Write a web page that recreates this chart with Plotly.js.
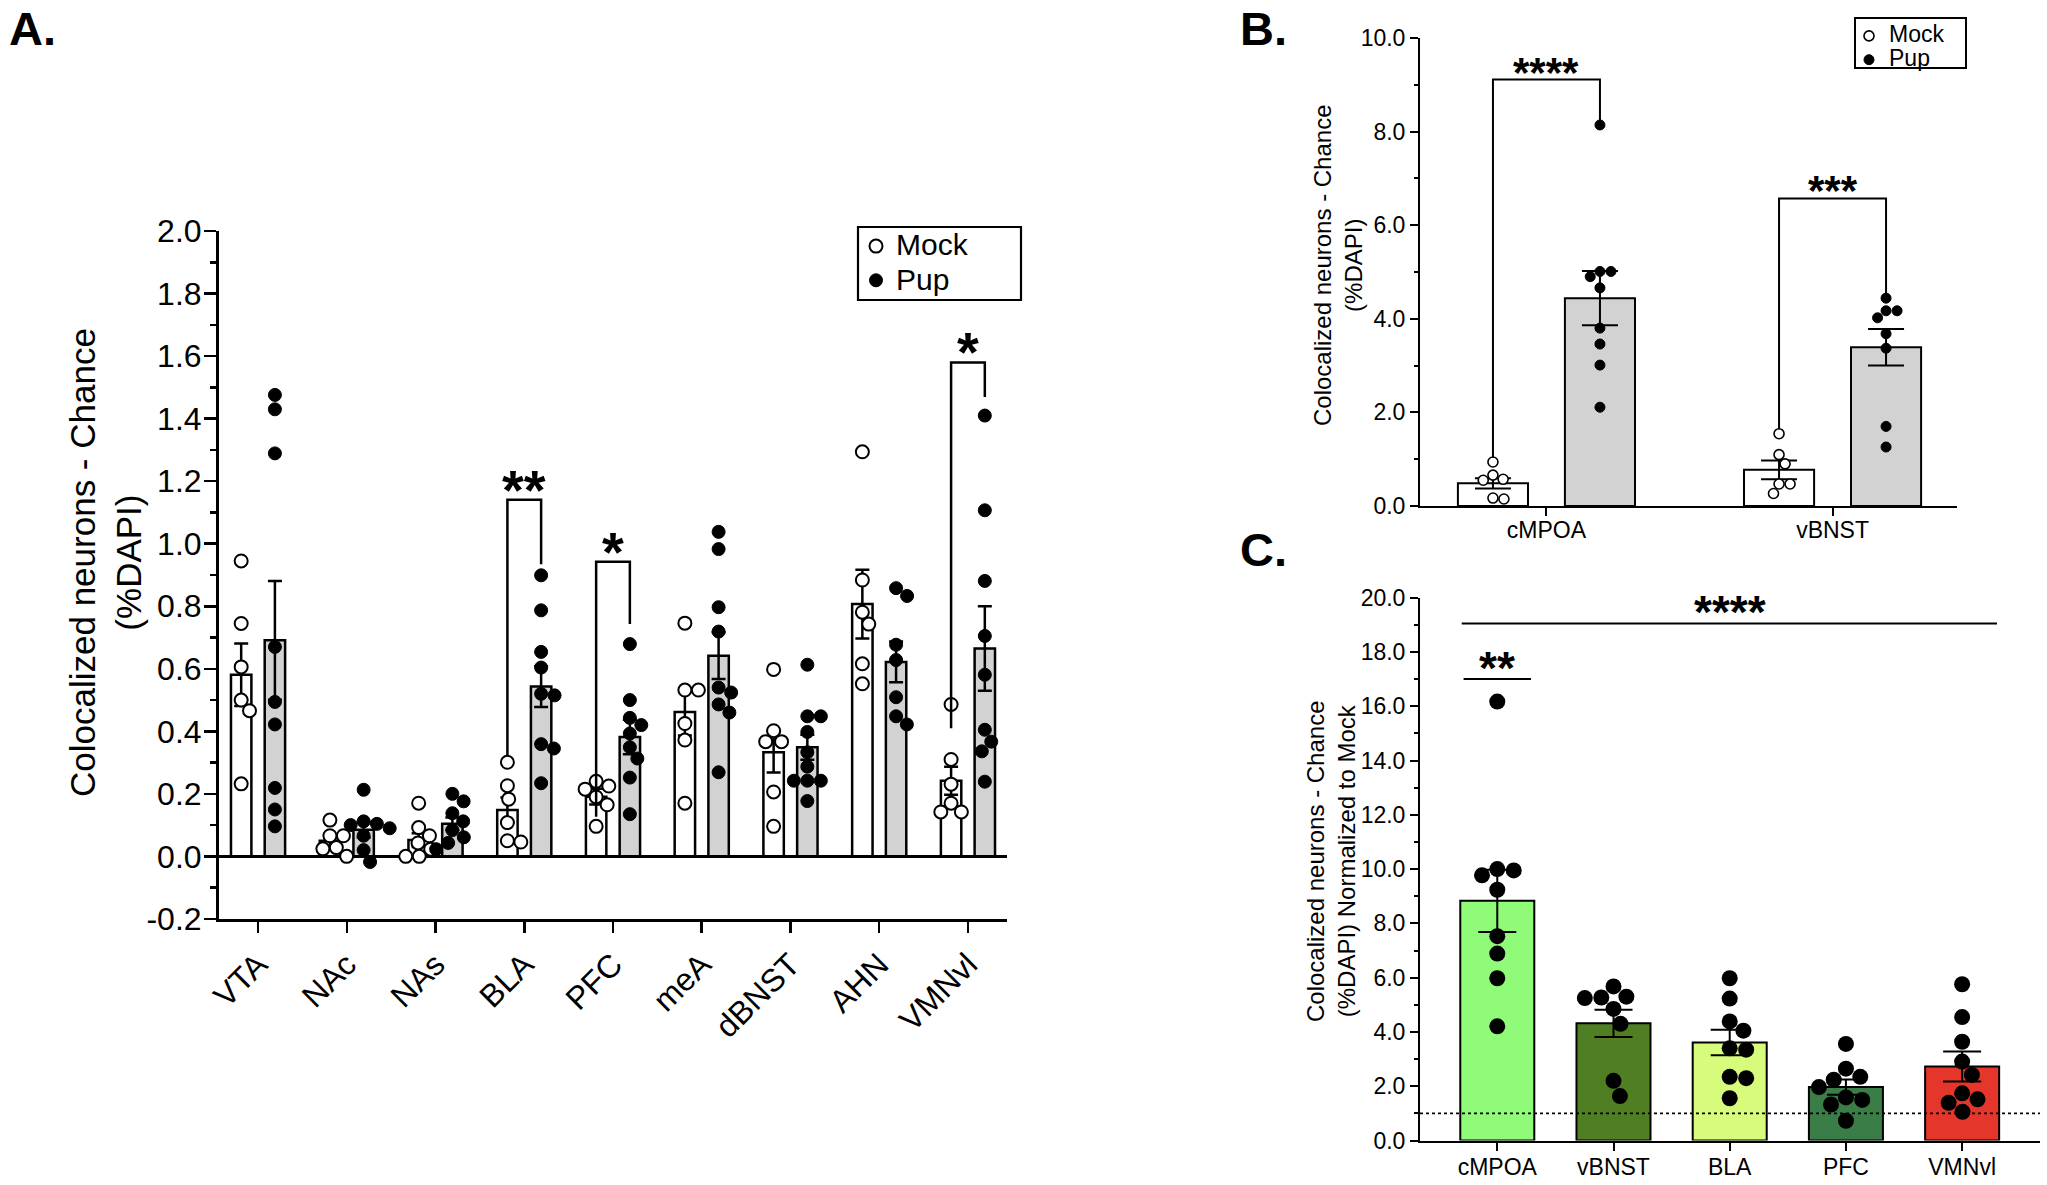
<!DOCTYPE html>
<html><head><meta charset="utf-8">
<script src="https://cdn.plot.ly/plotly-3.0.1.min.js"></script>
<style>html,body{margin:0;padding:0;background:#fff;}#chart{width:2047px;height:1185px;}</style>
</head><body><div id="chart"></div>
<script>
// ================= DATA =================
// Panel A
const regionsA = ['VTA','NAc','NAs','BLA','PFC','meA','dBNST','AHN','VMNvl'];
const mockMeanA = [0.581,0.050,0.052,0.148,0.191,0.462,0.333,0.807,0.242];
const mockSemA  = [0.100,0.020,0.022,0.040,0.025,0.075,0.065,0.110,0.045];
const pupMeanA  = [0.691,0.085,0.104,0.543,0.382,0.642,0.349,0.622,0.665];
const pupSemA   = [0.190,0.025,0.020,0.065,0.055,0.075,0.040,0.065,0.135];
const mockPtsA = [
  [0.945,0.745,0.606,0.500,0.466,0.232],
  [0.116,0.066,0.066,0.028,0.024,0.000],
  [0.170,0.092,0.066,0.043,0.023,0.000,0.000],
  [0.301,0.226,0.183,0.108,0.050,0.046],
  [0.240,0.225,0.215,0.190,0.165,0.096],
  [0.746,0.532,0.532,0.425,0.372,0.170],
  [0.598,0.402,0.367,0.367,0.206,0.096],
  [1.294,0.884,0.781,0.743,0.616,0.552],
  [0.486,0.310,0.231,0.170,0.142,0.142]
];
const pupPtsA = [
  [1.476,1.430,1.289,0.670,0.494,0.422,0.219,0.150,0.096],
  [0.213,0.112,0.104,0.100,0.090,0.066,0.020,-0.018],
  [0.200,0.176,0.138,0.112,0.084,0.061,0.043,0.023],
  [0.899,0.787,0.654,0.604,0.520,0.515,0.359,0.345,0.234],
  [0.679,0.500,0.443,0.420,0.393,0.349,0.313,0.252,0.135],
  [1.038,0.983,0.797,0.719,0.540,0.524,0.486,0.460,0.269],
  [0.613,0.448,0.448,0.398,0.333,0.287,0.242,0.242,0.242,0.177],
  [0.858,0.833,0.677,0.628,0.509,0.448,0.422],
  [1.410,1.107,0.881,0.705,0.581,0.405,0.367,0.336,0.239]
];
const yTicksA = [-0.2,0.0,0.2,0.4,0.6,0.8,1.0,1.2,1.4,1.6,1.8,2.0];
const yTitleA = 'Colocalized neurons - Chance<br>(%DAPI)';
const sigIdxA = [3,4,8];
const sigTopA = [1.141,0.942,1.580];
const sigLeftEndA = [0.320,0.127,0.410];
const sigRightEndA = [0.934,0.743,1.469];
const sigLabelA = ['**','*','*'];

// Panel B
const regionsB = ['cMPOA','vBNST'];
const mockMeanB = [0.484,0.773];
const mockSemB  = [0.110,0.200];
const pupMeanB  = [4.44,3.39];
const pupSemB   = [0.58,0.39];
const mockPtsB = [
  [0.94,0.66,0.57,0.55,0.17,0.15],
  [1.545,1.097,0.90,0.47,0.47,0.267]
];
const pupPtsB = [
  [8.14,5.01,5.01,4.90,4.66,3.80,3.46,3.01,2.11],
  [4.44,4.17,4.17,4.02,3.68,3.37,1.70,1.26]
];
const yTicksB = [0,2,4,6,8,10];
const yTitleB = 'Colocalized neurons - Chance<br>(%DAPI)';
const sigTopB = [9.11,6.57];
const sigLeftEndB = [1.03,1.64];
const sigRightEndB = [8.14,4.49];
const sigLabelB = ['****','***'];

// Panel C
const regionsC = ['cMPOA','vBNST','BLA','PFC','VMNvl'];
const meanC = [8.83,4.32,3.61,1.97,2.73];
const semC  = [1.15,0.50,0.47,0.28,0.55];
const ptsC = [
  [16.17,10.00,9.95,9.77,9.24,7.53,6.89,5.98,4.21],
  [5.68,5.30,5.27,5.25,4.85,4.30,2.20,1.64],
  [5.98,5.23,4.39,4.05,3.40,3.35,2.35,2.30,1.56],
  [3.56,2.65,2.35,2.24,1.97,1.59,1.50,1.33,0.73],
  [5.76,4.55,3.64,2.91,2.42,1.74,1.52,1.39,1.06]
];
const colorsC = ['#8ffb78','#4f7f22','#d7fb7a','#3b7d46','#e4362b'];
const yTicksC = [0,2,4,6,8,10,12,14,16,18,20];
const yTitleC = 'Colocalized neurons - Chance<br>(%DAPI) Normalized to Mock';
const chanceLevelC = 1.0;
const sigAllC = {label:'****', y:19.05, from:0, to:4};
const sigFirstC = {label:'**', y:17.0, idx:0};

// ================= LAYOUT GEOMETRY =================
const W = 2047, H = 1185;
const FONT = 'Arial, "Liberation Sans", Helvetica, sans-serif';
const px2x = p => p / W, px2y = p => 1 - p / H;
const domA = {x:[px2x(219), px2x(1007)], y:[px2y(918.9), px2y(231.1)]};
const domB = {x:[px2x(1420), px2x(1957)], y:[px2y(506), px2y(37.9)]};
const domC = {x:[px2x(1420), px2x(2040)], y:[px2y(1140.6), px2y(597.6)]};
const rangeXA = [-0.44, 8.44], rangeYA = [-0.2, 2.0];
const rangeXB = [-0.442, 1.435], rangeYB = [0, 10];
const rangeXC = [-0.665, 4.67], rangeYC = [0, 20];
const offA = 0.19, widthA = 0.23;
const offB = 0.187, widthB = 0.245;
const widthC = 0.637;

function pxScale(dom, range, total){
  return (dom[1]-dom[0]) * total / (range[1]-range[0]);
}
const sxA = pxScale(domA.x, rangeXA, W), syA = pxScale(domA.y, rangeYA, H);
const sxB = pxScale(domB.x, rangeXB, W), syB = pxScale(domB.y, rangeYB, H);
const sxC = pxScale(domC.x, rangeXC, W), syC = pxScale(domC.y, rangeYC, H);

// beeswarm horizontal placement
function swarm(vals, cx, pxX, pxY, D){
  const order = vals.map((v,i)=>i).sort((a,b)=>vals[b]-vals[a]);
  const placed = []; const xs = new Array(vals.length);
  for (const i of order){
    const v = vals[i];
    const cands = [0];
    for (const p of placed){
      const dy = (v-p.v)*pxY;
      if (Math.abs(dy) < D){ const dx = Math.sqrt(D*D-dy*dy); cands.push(p.o+dx+0.01, p.o-dx-0.01); }
    }
    cands.sort((a,b)=>Math.abs(a)-Math.abs(b) || b-a);
    let off = 0;
    for (const c of cands){
      if (placed.every(p=>{const dy=(v-p.v)*pxY, dx=c-p.o; return dx*dx+dy*dy >= D*D-0.5;})){ off = c; break; }
    }
    placed.push({v:v, o:off});
    xs[i] = cx + off/pxX;
  }
  return xs;
}
function swarmAll(ptsList, centers, pxX, pxY, D){
  const xs = [], ys = [];
  ptsList.forEach((vals,i)=>{ const sx = swarm(vals, centers[i], pxX, pxY, D); xs.push(...sx); ys.push(...vals); });
  return {x:xs, y:ys};
}

const traces = [];
// ---------- Panel A ----------
const idxA = regionsA.map((_,i)=>i);
const mockXA = idxA.map(i=>i-offA), pupXA = idxA.map(i=>i+offA);
const errA = (arr)=>({type:'data', array:arr, symmetric:true, color:'#000', thickness:2.5, width:7});
traces.push({type:'bar', x:mockXA, y:mockMeanA, width:widthA, xaxis:'x', yaxis:'y', showlegend:false,
  marker:{color:'#ffffff', line:{color:'#000', width:2.5}}, error_y:errA(mockSemA), hoverinfo:'skip'});
traces.push({type:'bar', x:pupXA, y:pupMeanA, width:widthA, xaxis:'x', yaxis:'y', showlegend:false,
  marker:{color:'#d2d2d2', line:{color:'#000', width:2.5}}, error_y:errA(pupSemA), hoverinfo:'skip'});
const mA = swarmAll(mockPtsA, mockXA, sxA, syA, 13.5);
const pA = swarmAll(pupPtsA, pupXA, sxA, syA, 13.5);
traces.push({type:'scatter', mode:'markers', x:mA.x, y:mA.y, xaxis:'x', yaxis:'y', legend:'legend',
  name:'<span style="font-size:30px">Mock</span>', marker:{symbol:'circle', size:13, color:'#fff', line:{color:'#000', width:2}}});
traces.push({type:'scatter', mode:'markers', x:pA.x, y:pA.y, xaxis:'x', yaxis:'y', legend:'legend',
  name:'<span style="font-size:30px">Pup</span>', marker:{symbol:'circle', size:13, color:'#000', line:{color:'#000', width:1}}});

// ---------- Panel B ----------
const idxB = regionsB.map((_,i)=>i);
const mockXB = idxB.map(i=>i-offB), pupXB = idxB.map(i=>i+offB);
const errB = (arr)=>({type:'data', array:arr, symmetric:true, color:'#000', thickness:2, width:18});
traces.push({type:'bar', x:mockXB, y:mockMeanB, width:widthB, xaxis:'x2', yaxis:'y2', showlegend:false,
  marker:{color:'#ffffff', line:{color:'#000', width:2}}, error_y:errB(mockSemB), hoverinfo:'skip'});
traces.push({type:'bar', x:pupXB, y:pupMeanB, width:widthB, xaxis:'x2', yaxis:'y2', showlegend:false,
  marker:{color:'#d2d2d2', line:{color:'#000', width:2}}, error_y:errB(pupSemB), hoverinfo:'skip'});
const mB = swarmAll(mockPtsB, mockXB, sxB, syB, 11);
const pB = swarmAll(pupPtsB, pupXB, sxB, syB, 11);
traces.push({type:'scatter', mode:'markers', x:mB.x, y:mB.y, xaxis:'x2', yaxis:'y2', legend:'legend2',
  name:'<span style="font-size:23px">Mock</span>', marker:{symbol:'circle', size:10, color:'#fff', line:{color:'#000', width:1.6}}});
traces.push({type:'scatter', mode:'markers', x:pB.x, y:pB.y, xaxis:'x2', yaxis:'y2', legend:'legend2',
  name:'<span style="font-size:23px">Pup</span>', marker:{symbol:'circle', size:10, color:'#000', line:{color:'#000', width:1}}});

// ---------- Panel C ----------
const idxC = regionsC.map((_,i)=>i);
traces.push({type:'bar', x:idxC, y:meanC, width:widthC, xaxis:'x3', yaxis:'y3', showlegend:false,
  marker:{color:colorsC, line:{color:'#000', width:2}},
  error_y:{type:'data', array:semC, symmetric:true, color:'#000', thickness:2, width:19}, hoverinfo:'skip'});
const cP = swarmAll(ptsC, idxC, sxC, syC, 16.5);
traces.push({type:'scatter', mode:'markers', x:cP.x, y:cP.y, xaxis:'x3', yaxis:'y3', showlegend:false,
  marker:{symbol:'circle', size:16, color:'#000'}});

// ---------- shapes & annotations ----------
const shapes = [], annotations = [];
function bracket(xref, yref, xl, xr, top, yl, yr, w){
  shapes.push({type:'path', xref:xref, yref:yref, path:`M${xl},${yl} L${xl},${top} L${xr},${top} L${xr},${yr}`,
    line:{color:'#000', width:w}, layer:'above'});
}
function stars(xref, yref, x, y, text, size, yshift){
  annotations.push({xref:xref, yref:yref, x:x, y:y, text:text, showarrow:false, xanchor:'center', yanchor:'bottom',
    yshift:yshift, font:{family:FONT, size:size, color:'#000', weight:'bold'}});
}
sigIdxA.forEach((i,k)=>{
  bracket('x','y', i-offA, i+offA, sigTopA[k], sigLeftEndA[k], sigRightEndA[k], 2.5);
  stars('x','y', i, sigTopA[k], sigLabelA[k], 56, -23);
});
idxB.forEach((i,k)=>{
  bracket('x2','y2', i-offB, i+offB, sigTopB[k], sigLeftEndB[k], sigRightEndB[k], 2);
  stars('x2','y2', i, sigTopB[k], sigLabelB[k], 42, -18);
});
// Panel C lines
shapes.push({type:'line', xref:'x3', yref:'y3', x0:sigAllC.from-0.306, x1:sigAllC.to+0.30, y0:sigAllC.y, y1:sigAllC.y, line:{color:'#000', width:2}});
stars('x3','y3', (sigAllC.from+sigAllC.to)/2, sigAllC.y, sigAllC.label, 46, -17);
shapes.push({type:'line', xref:'x3', yref:'y3', x0:sigFirstC.idx-0.29, x1:sigFirstC.idx+0.29, y0:sigFirstC.y, y1:sigFirstC.y, line:{color:'#000', width:2}});
stars('x3','y3', sigFirstC.idx, sigFirstC.y, sigFirstC.label, 46, -17);
shapes.push({type:'line', xref:'x3 domain', yref:'y3', x0:0, x1:1, y0:chanceLevelC, y1:chanceLevelC, line:{color:'#000', width:1.8, dash:'dot'}});
// legend boxes
shapes.push({type:'rect', xref:'paper', yref:'paper', x0:px2x(858), x1:px2x(1021), y0:px2y(300), y1:px2y(227), line:{color:'#000', width:2.2}});
shapes.push({type:'rect', xref:'paper', yref:'paper', x0:px2x(1855), x1:px2x(1966), y0:px2y(68), y1:px2y(18), line:{color:'#000', width:2}});
// panel letters
annotations.push({xref:'paper', yref:'paper', x:px2x(7), y:1, text:'A.', showarrow:false, xanchor:'left', yanchor:'top',
  font:{family:FONT, size:47, color:'#000', weight:'bold'}});
annotations.push({xref:'paper', yref:'paper', x:px2x(1238), y:1, text:'B.', showarrow:false, xanchor:'left', yanchor:'top',
  font:{family:FONT, size:47, color:'#000', weight:'bold'}});
annotations.push({xref:'paper', yref:'paper', x:px2x(1238), y:px2y(549), text:'C.', showarrow:false, xanchor:'left', yanchor:'middle',
  font:{family:FONT, size:47, color:'#000', weight:'bold'}});
// y-axis titles
function yTitle(text, cx, cy, size){
  annotations.push({xref:'paper', yref:'paper', x:px2x(cx), y:px2y(cy), text:text, textangle:-90, showarrow:false,
    xanchor:'center', yanchor:'middle', font:{family:FONT, size:size, color:'#000'}});
}
yTitle(yTitleA, 105, 563, 35);
yTitle(yTitleB, 1338, 265, 24);
yTitle(yTitleC, 1331, 861, 24);

// ---------- axes ----------
const baseAx = {showgrid:false, zeroline:false, showline:true, linecolor:'#000', ticks:'outside', tickcolor:'#000', fixedrange:true};
const layout = {
  width:W, height:H, margin:{l:0,r:0,t:0,b:0}, paper_bgcolor:'#fff', plot_bgcolor:'rgba(0,0,0,0)',
  font:{family:FONT, color:'#000'}, barmode:'overlay', showlegend:true,
  xaxis: Object.assign({}, baseAx, {domain:domA.x, range:rangeXA, anchor:'y', tickmode:'array', tickvals:idxA, ticktext:regionsA,
    tickangle:-45, ticklen:11, tickwidth:2.5, linewidth:3, tickfont:{size:32}}),
  yaxis: Object.assign({}, baseAx, {domain:domA.y, range:rangeYA, anchor:'x', tickmode:'array', tickvals:yTicksA,
    ticktext:yTicksA.map(v=>v.toFixed(1)), ticklen:12, tickwidth:2.5, linewidth:3, tickfont:{size:32}, ticklabelstandoff:-4,
    zeroline:true, zerolinecolor:'#000', zerolinewidth:3,
    minor:{tickmode:'linear', tick0:0, dtick:0.1, ticks:'outside', ticklen:6, tickwidth:2.5, tickcolor:'#000', showgrid:false}}),
  xaxis2: Object.assign({}, baseAx, {domain:domB.x, range:rangeXB, anchor:'y2', tickmode:'array', tickvals:idxB, ticktext:regionsB,
    ticklen:8, tickwidth:2, linewidth:2, tickfont:{size:23}, ticklabelstandoff:-6}),
  yaxis2: Object.assign({}, baseAx, {domain:domB.y, range:rangeYB, anchor:'x2', tickmode:'array', tickvals:yTicksB,
    ticktext:yTicksB.map(v=>v.toFixed(1)), ticklen:8, tickwidth:2, linewidth:2, tickfont:{size:23},
    minor:{tickmode:'linear', tick0:0, dtick:1, ticks:'outside', ticklen:4, tickwidth:2, tickcolor:'#000', showgrid:false}}),
  xaxis3: Object.assign({}, baseAx, {domain:domC.x, range:rangeXC, anchor:'y3', tickmode:'array', tickvals:idxC, ticktext:regionsC,
    ticklen:8, tickwidth:2, linewidth:2, tickfont:{size:23}, ticklabelstandoff:-3}),
  yaxis3: Object.assign({}, baseAx, {domain:domC.y, range:rangeYC, anchor:'x3', tickmode:'array', tickvals:yTicksC,
    ticktext:yTicksC.map(v=>v.toFixed(1)), ticklen:8, tickwidth:2, linewidth:2, tickfont:{size:23},
    minor:{tickmode:'linear', tick0:0, dtick:1, ticks:'outside', ticklen:4, tickwidth:2, tickcolor:'#000', showgrid:false}}),
  legend:{x:px2x(856), y:px2y(224), xanchor:'left', yanchor:'top', bgcolor:'rgba(0,0,0,0)', borderwidth:0, font:{size:24}, tracegroupgap:0},
  legend2:{x:px2x(1849), y:px2y(19), xanchor:'left', yanchor:'top', bgcolor:'rgba(0,0,0,0)', borderwidth:0, font:{size:16}, tracegroupgap:0},
  shapes:shapes, annotations:annotations
};
Plotly.newPlot('chart', traces, layout, {staticPlot:true, displayModeBar:false});
</script></body></html>
